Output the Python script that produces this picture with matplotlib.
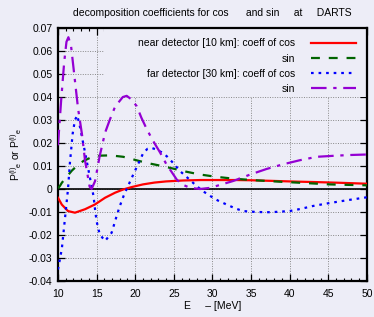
import matplotlib
matplotlib.use("Agg")
import matplotlib.pyplot as plt
from matplotlib.patches import Rectangle
from matplotlib.ticker import MultipleLocator

plt.rcParams['font.family'] = ['Liberation Sans Narrow', 'Liberation Sans', 'DejaVu Sans']
plt.rcParams['mathtext.default'] = 'regular'

# near detector, coeff of cos (red)
e_near_cos = [10, 10.5, 11.3, 12.2, 13.5, 14.8, 16.1, 17.4, 18.45, 19.5, 21.0, 22.5,
              24.0, 26.2, 28.5, 30.5, 33.0, 35.0, 38.0, 41.0, 43.5, 46.5, 50]
v_near_cos = [-0.0038, -0.0068, -0.0096, -0.0103, -0.0088, -0.0067, -0.0038, -0.0016,
              -0.0002, 0.0008, 0.0020, 0.0028, 0.0033, 0.0037, 0.0039, 0.0039, 0.0039,
              0.0038, 0.0035, 0.0032, 0.0030, 0.0027, 0.0023]

# near detector, sin (green)
e_near_sin = [10, 10.25, 10.5, 11.0, 11.8, 12.5, 13.3, 14.2, 15.4, 16.5, 17.4, 18.45,
              19.5, 20.6, 22.0, 23.6, 25.0, 26.5, 28.4, 30.5, 32.7, 35.5, 39.1, 42.0,
              45.2, 47.5, 50]
v_near_sin = [0.0003, 0.0013, 0.0027, 0.0048, 0.0080, 0.0102, 0.0122, 0.0136, 0.0145,
              0.0146, 0.0144, 0.0140, 0.0131, 0.0121, 0.0110, 0.0099, 0.0088, 0.0076,
              0.0063, 0.0053, 0.0045, 0.0038, 0.0031, 0.0026, 0.0020, 0.0018, 0.0016]

# far detector, coeff of cos (blue)
e_far_cos = [10, 10.5, 10.9, 11.3, 11.55, 11.9, 12.2, 12.5, 12.85, 13.2, 13.5, 14.1,
             14.6, 14.8, 15.0, 15.4, 16.1, 16.95, 17.6, 18.0, 18.5, 19.1, 19.75, 20.4,
             21.05, 21.6, 22.1, 22.7, 23.4, 24.1, 25.0, 25.8, 26.9, 27.95, 28.8, 29.7,
             30.7, 31.8, 33.0, 34.0, 35.7, 37.5, 40.0, 41.5, 43.0, 45.0, 47.4, 50]
v_far_cos = [-0.035, -0.026, -0.013, 0.0, 0.0115, 0.024, 0.030, 0.032, 0.027, 0.021,
             0.016, 0.0056, -0.003, -0.0088, -0.014, -0.0197, -0.0226, -0.019, -0.0117,
             -0.0075, -0.003, 0.0015, 0.0063, 0.011, 0.0157, 0.0175, 0.0179, 0.0172,
             0.016, 0.0142, 0.011, 0.0078, 0.0045, 0.0013, -0.001, -0.003, -0.005,
             -0.0067, -0.0085, -0.0096, -0.0100, -0.0101, -0.0096, -0.0086, -0.0074,
             -0.0062, -0.0049, -0.0036]

# far detector, sin (purple)
e_far_sin = [10, 10.4, 10.8, 11.1, 11.35, 11.7, 12.0, 12.2, 12.6, 13.1, 13.5, 14.1,
             14.35, 14.8, 15.4, 16.1, 16.7, 17.3, 17.8, 18.4, 18.9, 19.5, 20.2, 20.8,
             21.5, 22.3, 23.2, 24.0, 24.5, 25.4, 26.2, 27.1, 28.4, 29.7, 31.0, 32.7,
             34.9, 37.0, 39.1, 41.3, 43.5, 46.0, 48.0, 50]
v_far_sin = [0.019, 0.038, 0.055, 0.064, 0.066, 0.062, 0.053, 0.047, 0.035, 0.024,
             0.0125, 0.001, 0.0, 0.0034, 0.0143, 0.0245, 0.030, 0.035, 0.0375, 0.040,
             0.0405, 0.039, 0.036, 0.031, 0.026, 0.021, 0.016, 0.011, 0.0085, 0.004,
             0.0018, 0.0005, 0.0, 0.0005, 0.0018, 0.0035, 0.0063, 0.0087, 0.0107,
             0.0125, 0.014, 0.0145, 0.0148, 0.015]

labels = ['near detector [10 km]: coeff of cos', 'sin',
          'far detector [30 km]: coeff of cos', 'sin']

bg = '#ededf7'
fig = plt.figure(figsize=(3.74, 3.17), dpi=100, facecolor=bg)
ax = fig.add_axes([0.155, 0.1136, 0.826, 0.798])
ax.set_facecolor(bg)
ax.set_axisbelow(True)

ax.axhline(0, color='black', lw=1.2, zorder=1.2)
# legend area hides the grid like the original
ax.add_patch(Rectangle((0.149, 0.727), 0.851, 0.273, transform=ax.transAxes,
                       facecolor=bg, edgecolor='none', zorder=1))

ax.plot(e_near_cos, v_near_cos, color='#ff0000', lw=1.6, label=labels[0], zorder=3)
ax.plot(e_near_sin, v_near_sin, color='#006400', lw=1.6, dashes=(4, 4), label=labels[1], zorder=3)
ax.plot(e_far_cos, v_far_cos, color='#0000ff', lw=1.6, dashes=(1.2, 2.2), label=labels[2], zorder=3)
ax.plot(e_far_sin, v_far_sin, color='#9400d3', lw=1.6, dashes=(7, 3, 1.5, 3), label=labels[3], zorder=3)

ax.set_xlim(10, 50)
ax.set_ylim(-0.04, 0.07)
ax.xaxis.set_major_locator(MultipleLocator(5))
ax.xaxis.set_minor_locator(MultipleLocator(1))
ax.yaxis.set_major_locator(MultipleLocator(0.01))
ax.yaxis.set_major_formatter(plt.FuncFormatter(lambda v, p: '0' if abs(v) < 1e-9 else f'{v:.2f}'))
ax.tick_params(which='both', direction='in', top=True, right=True, labelsize=7.5)
ax.tick_params(axis='x', pad=6)
ax.tick_params(axis='y', pad=4)
ax.tick_params(which='major', length=5, width=0.9)
ax.tick_params(which='minor', length=2.5, width=0.8)
ax.grid(True, which='major', color='#888888', lw=0.7, ls=(0, (1, 1.5)))
for s in ax.spines.values():
    s.set_linewidth(1.6)

ax.set_title('decomposition coefficients for cos      and sin     at     DARTS', fontsize=7.5, pad=9)
ax.set_xlabel('E     \u2013 [MeV]', fontsize=7.5, labelpad=1)
ax.set_ylabel(r'P$^{(i)}{}_{e}$ or P$^{(i)}{}_{e}$', fontsize=7.5, labelpad=3)

ax.legend(loc='upper right', frameon=False, markerfirst=False, fontsize=7.5,
          handlelength=4.4, handletextpad=1.5, labelspacing=0.5, borderpad=0.8,
          borderaxespad=0.2)

fig.savefig('out.png', dpi=100, facecolor=bg)
